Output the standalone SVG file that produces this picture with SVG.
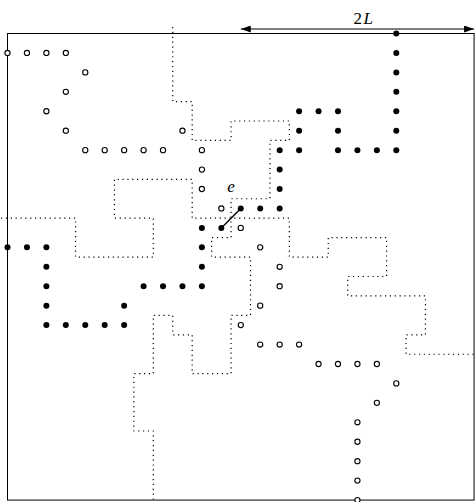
<svg xmlns="http://www.w3.org/2000/svg" width="476" height="502" viewBox="0 0 476 502">
<defs>
<style>
.frame{fill:none;stroke:#000;stroke-width:1}
.dual{fill:none;stroke:#000;stroke-width:1.2;stroke-dasharray:1.2 3.66}
.b{fill:#000}
.w{fill:#fff;stroke:#000;stroke-width:1.1}
.edge{stroke:#000;stroke-width:1.4}
.dim{stroke:#000;stroke-width:1.2}
.lbl{font-family:"Liberation Serif",serif;font-size:17px;fill:#000}
</style>
<marker id="ah" viewBox="0 0 10 7" refX="10" refY="3.5" markerWidth="10" markerHeight="7" orient="auto-start-reverse" markerUnits="userSpaceOnUse"><path d="M0,0 L10,3.5 L0,7 z" fill="#000"/></marker>
</defs>
<rect class="frame" x="7.5" y="33.5" width="466.56" height="466.56"/>
<g id="connectors">
<path class="dual" d="M172.74,27 V101.54 H192.18 V140.42 H231.06 V120.98 H289.38 V140.42 H269.94 V198.74 H231.06 V237.62 H211.62 V257.06 H250.5 V315.38 H231.06 V373.7 H192.18 V334.82 H172.74 V315.38 H153.3 V373.7 H133.86 V431 H153.3 V502"/>
<path class="dual" d="M1,218.18 H75.54 V257.06 H153.3 V218.18 H114.42 V179.3 H192.18 V218.18 H289.38 V257.06 H328.26 V237.62 H386.58 V276.5 H347.7 V295.94 H425.46 V334.82 H406.02 V354.26 H474"/>
<line class="edge" x1="221.34" y1="227.9" x2="240.78" y2="208.46"/>
<line class="dim" x1="240.78" y1="29" x2="474.06" y2="29" marker-start="url(#ah)" marker-end="url(#ah)"/>
</g>
<text class="lbl" x="364" y="23.5" text-anchor="middle" letter-spacing="1.5">2<tspan font-style="italic">L</tspan></text>
<text class="lbl" x="231" y="191.5" text-anchor="middle" font-style="italic" fill="#444">e</text>
<g id="black-nodes">
<g id="b20-0"><circle class="b" cx="396.3" cy="33.5" r="3"/></g>
<g id="b20-1"><circle class="b" cx="396.3" cy="52.94" r="3"/></g>
<g id="b20-2"><circle class="b" cx="396.3" cy="72.38" r="3"/></g>
<g id="b20-3"><circle class="b" cx="396.3" cy="91.82" r="3"/></g>
<g id="b20-4"><circle class="b" cx="396.3" cy="111.26" r="3"/></g>
<g id="b20-5"><circle class="b" cx="396.3" cy="130.7" r="3"/></g>
<g id="b20-6"><circle class="b" cx="396.3" cy="150.14" r="3"/></g>
<g id="b19-6"><circle class="b" cx="376.86" cy="150.14" r="3"/></g>
<g id="b18-6"><circle class="b" cx="357.42" cy="150.14" r="3"/></g>
<g id="b17-6"><circle class="b" cx="337.98" cy="150.14" r="3"/></g>
<g id="b17-5"><circle class="b" cx="337.98" cy="130.7" r="3"/></g>
<g id="b17-4"><circle class="b" cx="337.98" cy="111.26" r="3"/></g>
<g id="b16-4"><circle class="b" cx="318.54" cy="111.26" r="3"/></g>
<g id="b15-4"><circle class="b" cx="299.1" cy="111.26" r="3"/></g>
<g id="b15-5"><circle class="b" cx="299.1" cy="130.7" r="3"/></g>
<g id="b15-6"><circle class="b" cx="299.1" cy="150.14" r="3"/></g>
<g id="b14-6"><circle class="b" cx="279.66" cy="150.14" r="3"/></g>
<g id="b14-7"><circle class="b" cx="279.66" cy="169.58" r="3"/></g>
<g id="b14-8"><circle class="b" cx="279.66" cy="189.02" r="3"/></g>
<g id="b14-9"><circle class="b" cx="279.66" cy="208.46" r="3"/></g>
<g id="b13-9"><circle class="b" cx="260.22" cy="208.46" r="3"/></g>
<g id="b12-9"><circle class="b" cx="240.78" cy="208.46" r="3"/></g>
<g id="b11-10"><circle class="b" cx="221.34" cy="227.9" r="3"/></g>
<g id="b10-10"><circle class="b" cx="201.9" cy="227.9" r="3"/></g>
<g id="b10-11"><circle class="b" cx="201.9" cy="247.34" r="3"/></g>
<g id="b10-12"><circle class="b" cx="201.9" cy="266.78" r="3"/></g>
<g id="b10-13"><circle class="b" cx="201.9" cy="286.22" r="3"/></g>
<g id="b9-13"><circle class="b" cx="182.46" cy="286.22" r="3"/></g>
<g id="b8-13"><circle class="b" cx="163.02" cy="286.22" r="3"/></g>
<g id="b7-13"><circle class="b" cx="143.58" cy="286.22" r="3"/></g>
<g id="b6-14"><circle class="b" cx="124.14" cy="305.66" r="3"/></g>
<g id="b6-15"><circle class="b" cx="124.14" cy="325.1" r="3"/></g>
<g id="b5-15"><circle class="b" cx="104.7" cy="325.1" r="3"/></g>
<g id="b4-15"><circle class="b" cx="85.26" cy="325.1" r="3"/></g>
<g id="b3-15"><circle class="b" cx="65.82" cy="325.1" r="3"/></g>
<g id="b2-15"><circle class="b" cx="46.38" cy="325.1" r="3"/></g>
<g id="b2-14"><circle class="b" cx="46.38" cy="305.66" r="3"/></g>
<g id="b2-13"><circle class="b" cx="46.38" cy="286.22" r="3"/></g>
<g id="b2-12"><circle class="b" cx="46.38" cy="266.78" r="3"/></g>
<g id="b2-11"><circle class="b" cx="46.38" cy="247.34" r="3"/></g>
<g id="b1-11"><circle class="b" cx="26.94" cy="247.34" r="3"/></g>
<g id="b0-11"><circle class="b" cx="7.5" cy="247.34" r="3"/></g>
</g>
<g id="white-nodes">
<g id="w0-1"><circle class="w" cx="7.5" cy="52.94" r="2.6"/></g>
<g id="w1-1"><circle class="w" cx="26.94" cy="52.94" r="2.6"/></g>
<g id="w2-1"><circle class="w" cx="46.38" cy="52.94" r="2.6"/></g>
<g id="w3-1"><circle class="w" cx="65.82" cy="52.94" r="2.6"/></g>
<g id="w4-2"><circle class="w" cx="85.26" cy="72.38" r="2.6"/></g>
<g id="w3-3"><circle class="w" cx="65.82" cy="91.82" r="2.6"/></g>
<g id="w2-4"><circle class="w" cx="46.38" cy="111.26" r="2.6"/></g>
<g id="w3-5"><circle class="w" cx="65.82" cy="130.7" r="2.6"/></g>
<g id="w4-6"><circle class="w" cx="85.26" cy="150.14" r="2.6"/></g>
<g id="w5-6"><circle class="w" cx="104.7" cy="150.14" r="2.6"/></g>
<g id="w6-6"><circle class="w" cx="124.14" cy="150.14" r="2.6"/></g>
<g id="w7-6"><circle class="w" cx="143.58" cy="150.14" r="2.6"/></g>
<g id="w8-6"><circle class="w" cx="163.02" cy="150.14" r="2.6"/></g>
<g id="w9-5"><circle class="w" cx="182.46" cy="130.7" r="2.6"/></g>
<g id="w10-6"><circle class="w" cx="201.9" cy="150.14" r="2.6"/></g>
<g id="w10-7"><circle class="w" cx="201.9" cy="169.58" r="2.6"/></g>
<g id="w10-8"><circle class="w" cx="201.9" cy="189.02" r="2.6"/></g>
<g id="w11-9"><circle class="w" cx="221.34" cy="208.46" r="2.6"/></g>
<g id="w12-10"><circle class="w" cx="240.78" cy="227.9" r="2.6"/></g>
<g id="w13-11"><circle class="w" cx="260.22" cy="247.34" r="2.6"/></g>
<g id="w14-12"><circle class="w" cx="279.66" cy="266.78" r="2.6"/></g>
<g id="w14-13"><circle class="w" cx="279.66" cy="286.22" r="2.6"/></g>
<g id="w13-14"><circle class="w" cx="260.22" cy="305.66" r="2.6"/></g>
<g id="w12-15"><circle class="w" cx="240.78" cy="325.1" r="2.6"/></g>
<g id="w13-16"><circle class="w" cx="260.22" cy="344.54" r="2.6"/></g>
<g id="w14-16"><circle class="w" cx="279.66" cy="344.54" r="2.6"/></g>
<g id="w15-16"><circle class="w" cx="299.1" cy="344.54" r="2.6"/></g>
<g id="w16-17"><circle class="w" cx="318.54" cy="363.98" r="2.6"/></g>
<g id="w17-17"><circle class="w" cx="337.98" cy="363.98" r="2.6"/></g>
<g id="w18-17"><circle class="w" cx="357.42" cy="363.98" r="2.6"/></g>
<g id="w19-17"><circle class="w" cx="376.86" cy="363.98" r="2.6"/></g>
<g id="w20-18"><circle class="w" cx="396.3" cy="383.42" r="2.6"/></g>
<g id="w19-19"><circle class="w" cx="376.86" cy="402.86" r="2.6"/></g>
<g id="w18-20"><circle class="w" cx="357.42" cy="422.3" r="2.6"/></g>
<g id="w18-21"><circle class="w" cx="357.42" cy="441.74" r="2.6"/></g>
<g id="w18-22"><circle class="w" cx="357.42" cy="461.18" r="2.6"/></g>
<g id="w18-23"><circle class="w" cx="357.42" cy="480.62" r="2.6"/></g>
<g id="w18-24"><circle class="w" cx="357.42" cy="500.06" r="2.6"/></g>
</g>
</svg>
